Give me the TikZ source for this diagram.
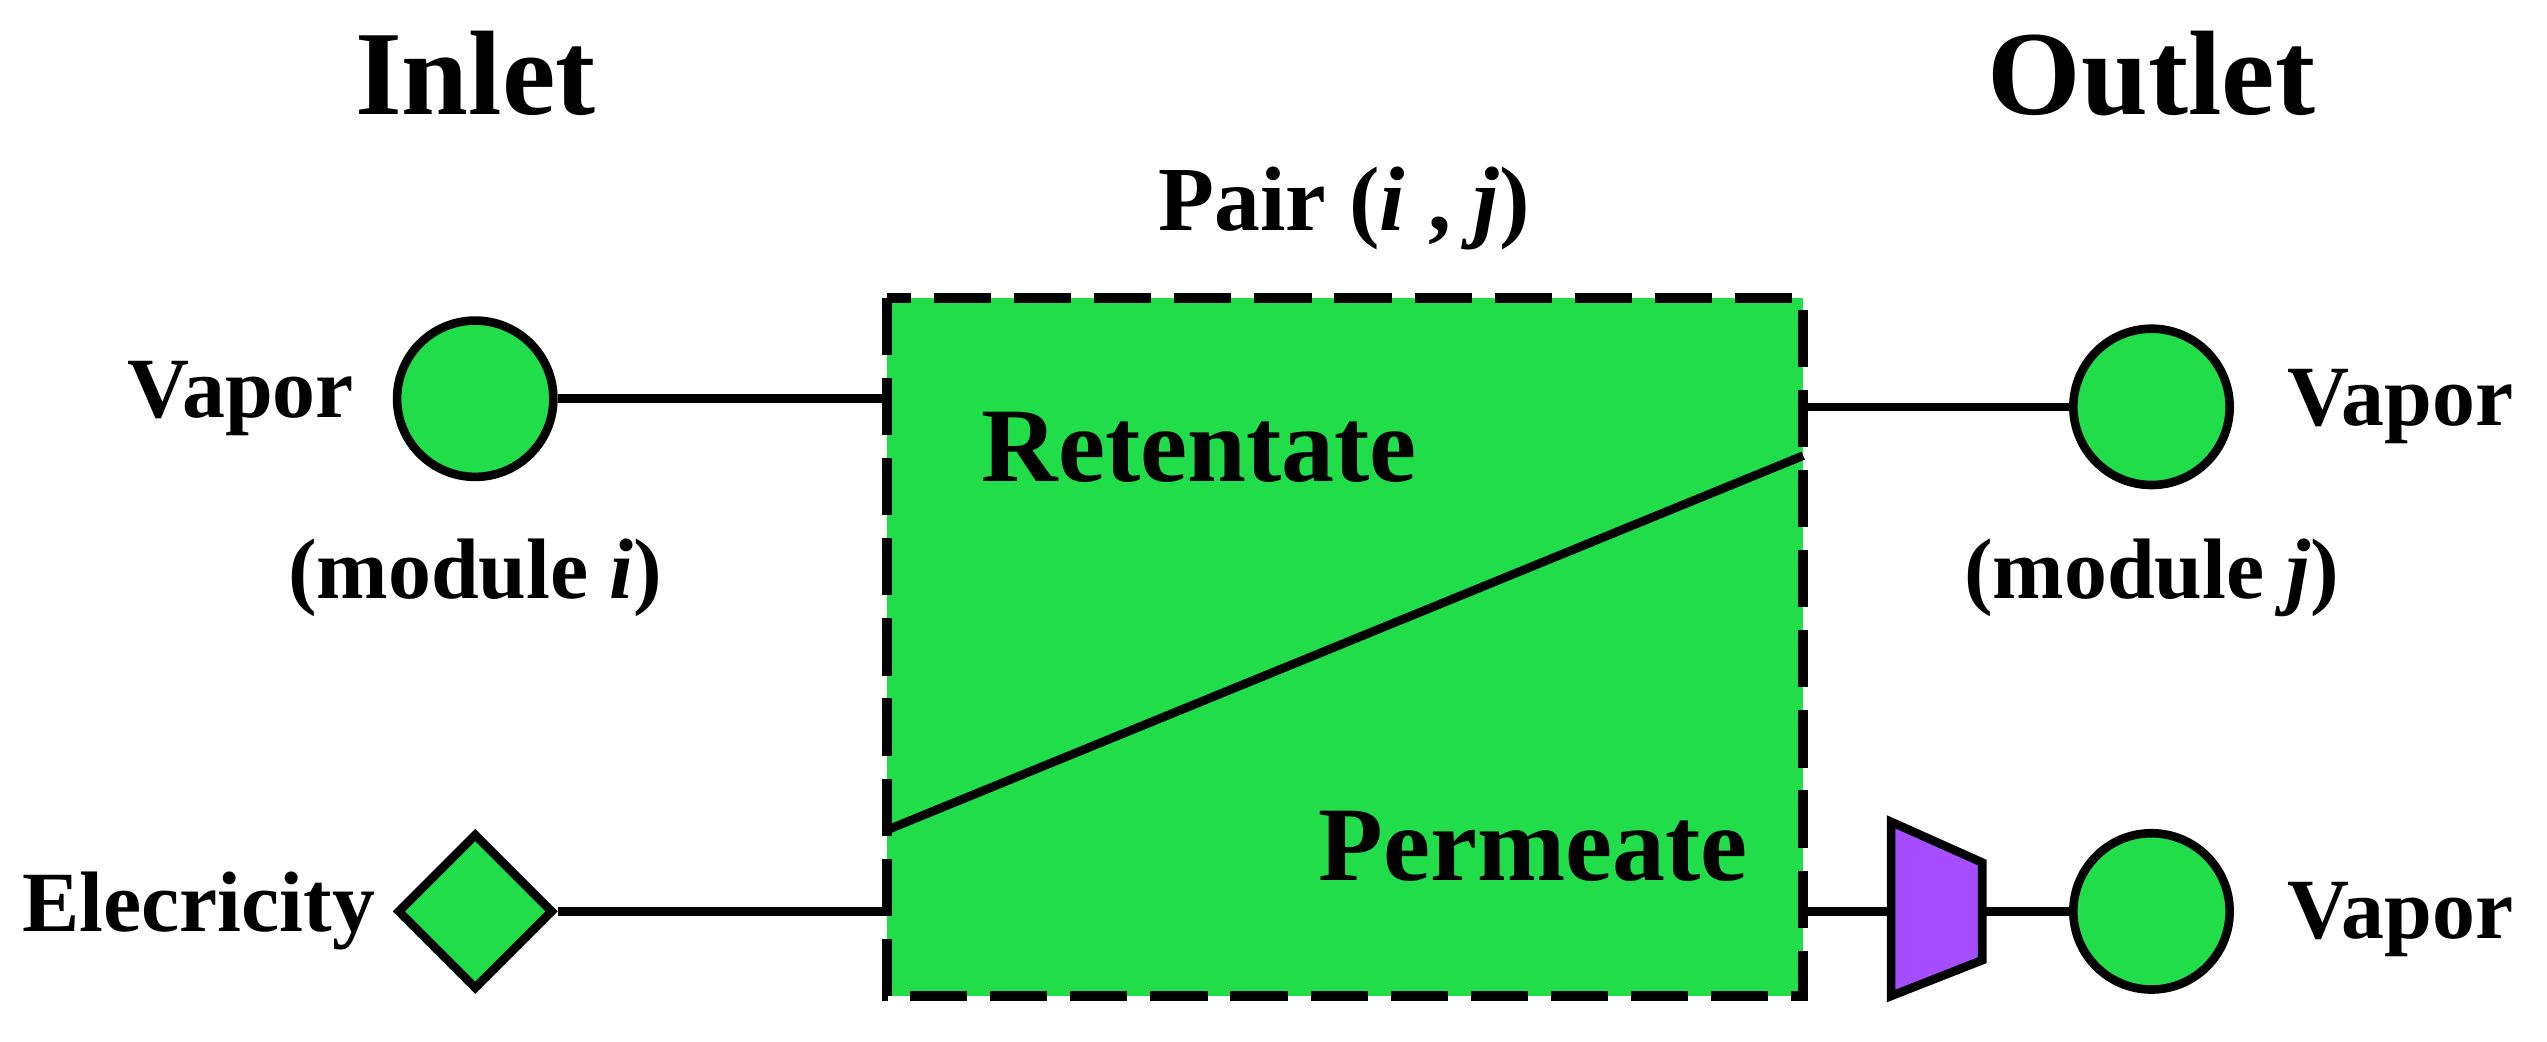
\documentclass[tikz,border=0pt]{standalone}
\usepackage{fontspec}
\setmainfont{Liberation Serif}
\usetikzlibrary{shapes.geometric}
\definecolor{unitgreen}{HTML}{22DD4A}
\definecolor{pumpviolet}{HTML}{A64DFF}
\tikzset{
  port/.style={circle,draw=black,fill=unitgreen,line width=1.5pt,minimum size=0.96cm,inner sep=0pt},
  elec/.style={diamond,draw=black,fill=unitgreen,line width=1.5pt,minimum size=0.96cm,inner sep=0pt},
  lbl/.style={font=\bfseries\fontsize{15}{17}\selectfont},
  head/.style={font=\bfseries\fontsize{21}{24}\selectfont},
  inbox/.style={font=\bfseries\fontsize{18.5}{21}\selectfont},
  pipe/.style={line width=1.5pt}
}
\begin{document}
\begin{tikzpicture}[x=0.01cm,y=-0.01cm]
\useasboundingbox (0,0) rectangle (1565,640);
% unit
\fill[unitgreen] (545,183) rectangle (1108,612);
\draw[line width=1.8pt,dash pattern=on 10pt off 4pt] (545,183) rectangle (1108,612);
\coordinate (mlo) at (545,510);
\coordinate (mhi) at (1108,280);
\draw[pipe] (mlo) -- (mhi);
\node[inbox] (ret) at (737,275) {Retentate};
\node[inbox] (perm) at (942,520) {Permeate};
\node[lbl,font=\bfseries\fontsize{16}{18}\selectfont] (pair) at (826,128) {Pair (\textit{i} , \textit{j})};
% headings
\node[head] (inlet) at (292,45) {Inlet};
\node[head] (outlet) at (1322,45) {Outlet};
% inlet side
\node[port] (vin) at (292,245) {};
\node[elec] (el) at (292,560) {};
\coordinate (bin1) at (545,245);
\coordinate (bin2) at (545,560);
\draw[pipe] (vin) -- (bin1);
\draw[pipe] (el) -- (bin2);
\node[lbl] (vinl) at (148,245) {Vapor};
\node[lbl] (modi) at (292,355) {(module \textit{i})};
\node[lbl,anchor=east] (ell) at (243,560) {Elecricity};
% outlet side
\node[port] (vout) at (1322,250) {};
\node[port] (vperm) at (1322,560) {};
\coordinate (bout1) at (1108,250);
\coordinate (bout2) at (1108,560);
\draw[pipe] (bout1) -- (vout);
\coordinate (pl) at (1162,560);
\coordinate (pr) at (1218,560);
\draw[pipe] (bout2) -- (pl);
\draw[pipe] (pr) -- (vperm);
\draw[pipe,fill=pumpviolet,line join=miter] (1162,505) -- (1218,530) -- (1218,590) -- (1162,612) -- cycle;
\node[lbl] (voutl) at (1475,250) {Vapor};
\node[lbl] (modj) at (1322,355) {(module \textit{j})};
\node[lbl] (vperml) at (1475,565) {Vapor};
\end{tikzpicture}
\end{document}
